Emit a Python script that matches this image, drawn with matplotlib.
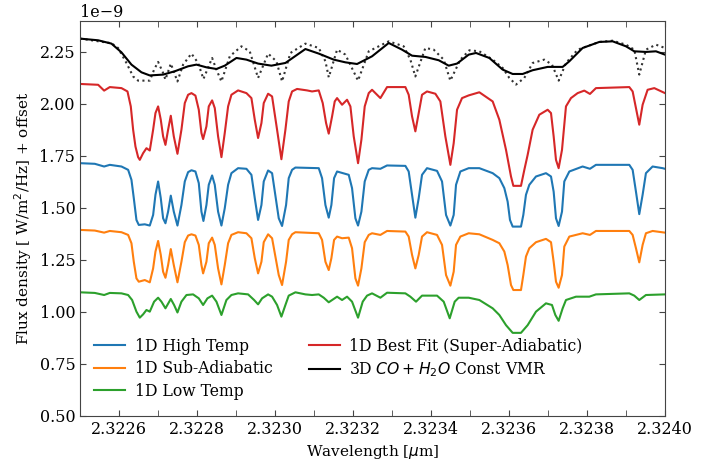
import matplotlib
matplotlib.use('Agg')
import matplotlib.pyplot as plt
from matplotlib.ticker import MultipleLocator
import numpy as np

plt.rcParams['font.family'] = 'serif'
plt.rcParams['font.serif'] = ['DejaVu Serif']

# wavelengths are given as offsets from wl0, in units of 1e-4 um
# flux in units of 1e-9 W/m^2/Hz (offsets already added)
wl0 = 2.3225

dl_high = [0, 0.376, 0.615, 0.761, 1.060, 1.231, 1.316, 1.376, 1.444, 1.504, 1.658, 1.786,
           1.872, 1.932, 2.000, 2.068, 2.128, 2.188, 2.256, 2.325, 2.402, 2.496, 2.598, 2.684,
           2.769, 2.855, 2.957, 3.043, 3.111, 3.162, 3.239, 3.299, 3.385, 3.453, 3.538, 3.624,
           3.709, 3.795, 3.880, 4.051, 4.265, 4.393, 4.479, 4.564, 4.650, 4.709, 4.821, 4.923,
           5.094, 5.179, 5.282, 5.350, 5.436, 5.521, 6.120, 6.205, 6.291, 6.376, 6.444, 6.513,
           6.590, 6.889, 6.974, 7.060, 7.128, 7.214, 7.299, 7.402, 7.487, 7.701, 7.872, 8.342,
           8.427, 8.513, 8.598, 8.684, 8.769, 8.897, 9.154, 9.282, 9.385, 9.496, 9.581, 9.641,
           9.752, 9.966, 10.239, 10.581, 10.752, 10.880, 10.965, 11.025, 11.094, 11.307, 11.367,
           11.435, 11.521, 11.692, 11.948, 12.077, 12.145, 12.205, 12.273, 12.359, 12.418,
           12.547, 12.888, 13.076, 13.230, 14.085, 14.171, 14.256, 14.341, 14.427, 14.512,
           14.683, 14.940, 15.0]
flux_high = [1.715, 1.712, 1.699, 1.707, 1.699, 1.683, 1.635, 1.547, 1.442, 1.418, 1.421, 1.415,
             1.466, 1.563, 1.627, 1.547, 1.450, 1.426, 1.482, 1.559, 1.482, 1.415, 1.514, 1.627,
             1.672, 1.681, 1.675, 1.619, 1.482, 1.437, 1.514, 1.611, 1.656, 1.611, 1.482, 1.415,
             1.498, 1.611, 1.667, 1.691, 1.688, 1.659, 1.547, 1.442, 1.514, 1.627, 1.680, 1.667,
             1.450, 1.413, 1.514, 1.643, 1.683, 1.694, 1.691, 1.643, 1.514, 1.453, 1.514, 1.643,
             1.675, 1.659, 1.595, 1.450, 1.415, 1.482, 1.627, 1.683, 1.691, 1.688, 1.704, 1.702,
             1.675, 1.563, 1.453, 1.547, 1.659, 1.691, 1.678, 1.627, 1.466, 1.415, 1.466, 1.611,
             1.675, 1.691, 1.691, 1.667, 1.643, 1.595, 1.530, 1.442, 1.410, 1.410, 1.466,
             1.563, 1.611, 1.651, 1.667, 1.651, 1.578, 1.450, 1.413, 1.482, 1.627,
             1.675, 1.699, 1.688, 1.707, 1.707, 1.683, 1.578, 1.470, 1.563, 1.667,
             1.699, 1.691, 1.688]

dl_sub = [0, 0.376, 0.615, 0.761, 1.060, 1.231, 1.316, 1.376, 1.444, 1.504, 1.658, 1.786,
          1.872, 1.932, 2.000, 2.068, 2.128, 2.188, 2.256, 2.325, 2.402, 2.496, 2.598, 2.684,
          2.769, 2.855, 2.957, 3.043, 3.111, 3.154, 3.239, 3.299, 3.385, 3.453, 3.538, 3.624,
          3.709, 3.795, 3.880, 4.051, 4.265, 4.393, 4.479, 4.564, 4.650, 4.709, 4.821, 4.923,
          5.094, 5.179, 5.282, 5.350, 5.436, 5.521, 6.120, 6.205, 6.291, 6.376, 6.444, 6.513,
          6.590, 6.718, 6.889, 6.974, 7.060, 7.128, 7.214, 7.299, 7.402, 7.487, 7.701, 7.872,
          8.342, 8.427, 8.513, 8.598, 8.684, 8.769, 8.897, 9.154, 9.282, 9.385, 9.496, 9.581,
          9.641, 9.752, 9.966, 10.239, 10.581, 10.752, 10.880, 10.965, 11.051, 11.111, 11.307,
          11.367, 11.435, 11.521, 11.692, 11.948, 12.077, 12.145, 12.205, 12.273, 12.359,
          12.418, 12.547, 12.888, 13.076, 13.230, 14.085, 14.171, 14.256, 14.341, 14.427,
          14.512, 14.683, 15.0]
flux_sub = [1.394, 1.391, 1.381, 1.389, 1.383, 1.370, 1.330, 1.241, 1.161, 1.145, 1.153, 1.142,
            1.209, 1.290, 1.341, 1.274, 1.193, 1.164, 1.225, 1.302, 1.225, 1.142, 1.241, 1.335,
            1.367, 1.373, 1.367, 1.322, 1.225, 1.185, 1.241, 1.330, 1.357, 1.322, 1.209, 1.132,
            1.225, 1.330, 1.370, 1.383, 1.378, 1.354, 1.258, 1.185, 1.241, 1.335, 1.373, 1.354,
            1.177, 1.129, 1.241, 1.346, 1.373, 1.383, 1.378, 1.346, 1.241, 1.201, 1.258, 1.346,
            1.362, 1.354, 1.357, 1.306, 1.161, 1.126, 1.209, 1.335, 1.370, 1.378, 1.370, 1.389,
            1.386, 1.362, 1.274, 1.209, 1.274, 1.362, 1.383, 1.370, 1.322, 1.177, 1.126, 1.193,
            1.322, 1.362, 1.378, 1.373, 1.346, 1.330, 1.290, 1.225, 1.129, 1.105, 1.105,
            1.177, 1.266, 1.306, 1.335, 1.351, 1.335, 1.241, 1.145, 1.116, 1.177,
            1.314, 1.362, 1.378, 1.370, 1.389, 1.389, 1.370, 1.306, 1.238, 1.322,
            1.378, 1.389, 1.381]

dl_low = [0, 0.376, 0.615, 0.761, 1.060, 1.231, 1.333, 1.444, 1.530, 1.615, 1.701, 1.786,
          1.897, 2.000, 2.085, 2.188, 2.325, 2.410, 2.496, 2.598, 2.727, 2.897, 3.043, 3.154,
          3.265, 3.385, 3.496, 3.624, 3.752, 3.880, 4.051, 4.308, 4.462, 4.564, 4.667, 4.821,
          4.923, 5.051, 5.162, 5.265, 5.350, 5.521, 5.778, 5.949, 6.120, 6.248, 6.376, 6.590,
          6.718, 6.846, 6.974, 7.128, 7.248, 7.359, 7.487, 7.701, 7.872, 8.342, 8.470, 8.615,
          8.769, 9.154, 9.325, 9.479, 9.607, 9.709, 9.966, 10.239, 10.581, 10.752, 10.923,
          11.094, 11.307, 11.478, 11.692, 11.948, 12.102, 12.188, 12.273, 12.376, 12.461,
          12.718, 13.059, 13.230, 14.085, 14.213, 14.341, 14.512, 15.0]
flux_low = [1.094, 1.091, 1.081, 1.091, 1.089, 1.081, 1.057, 1.001, 0.972, 0.988, 1.009, 1.001,
            1.049, 1.068, 1.049, 1.017, 1.062, 1.033, 0.997, 1.049, 1.081, 1.084, 1.065, 1.033,
            1.065, 1.078, 1.049, 0.985, 1.057, 1.081, 1.089, 1.084, 1.057, 1.036, 1.065, 1.084,
            1.073, 1.033, 0.977, 1.033, 1.078, 1.094, 1.084, 1.081, 1.084, 1.068, 1.046, 1.073,
            1.057, 1.073, 1.049, 0.972, 1.049, 1.078, 1.089, 1.068, 1.092, 1.089, 1.073, 1.049,
            1.078, 1.078, 1.049, 0.969, 1.049, 1.068, 1.068, 1.057, 1.017, 0.985, 0.936,
            0.899, 0.899, 0.936, 1.001, 1.041, 1.033, 0.985, 0.957, 1.017, 1.057,
            1.073, 1.073, 1.084, 1.089, 1.078, 1.057, 1.081, 1.084]

dl_best = [0, 0.462, 0.615, 0.761, 1.060, 1.214, 1.299, 1.359, 1.419, 1.487, 1.530, 1.615,
           1.701, 1.786, 1.872, 1.932, 2.000, 2.068, 2.128, 2.188, 2.256, 2.325, 2.402, 2.496,
           2.598, 2.684, 2.769, 2.855, 2.957, 3.043, 3.111, 3.154, 3.239, 3.299, 3.385, 3.453,
           3.538, 3.624, 3.709, 3.795, 3.880, 4.051, 4.265, 4.393, 4.479, 4.564, 4.650, 4.709,
           4.821, 4.923, 5.051, 5.162, 5.265, 5.350, 5.436, 5.564, 5.820, 5.949, 6.120, 6.222,
           6.308, 6.376, 6.462, 6.530, 6.590, 6.718, 6.846, 6.932, 7.017, 7.128, 7.214, 7.299,
           7.402, 7.487, 7.701, 7.872, 8.342, 8.427, 8.513, 8.598, 8.684, 8.769, 8.897, 9.111,
           9.239, 9.367, 9.496, 9.581, 9.667, 9.795, 9.966, 10.239, 10.581, 10.752, 10.923,
           11.051, 11.111, 11.307, 11.393, 11.478, 11.606, 11.777, 11.991, 12.077, 12.145,
           12.205, 12.273, 12.359, 12.461, 12.589, 12.760, 12.931, 13.076, 13.230, 14.085,
           14.171, 14.256, 14.341, 14.427, 14.555, 14.726, 15.0]
flux_best = [2.096, 2.092, 2.064, 2.081, 2.076, 2.060, 1.988, 1.876, 1.795, 1.744, 1.731, 1.763,
             1.787, 1.776, 1.876, 1.956, 1.988, 1.924, 1.844, 1.803, 1.876, 1.943, 1.844, 1.760,
             1.876, 2.004, 2.044, 2.052, 2.040, 1.972, 1.860, 1.831, 1.892, 1.988, 2.017, 1.980,
             1.844, 1.744, 1.860, 1.988, 2.044, 2.065, 2.052, 2.028, 1.924, 1.836, 1.908, 2.004,
             2.049, 2.036, 1.876, 1.734, 1.876, 2.012, 2.060, 2.072, 2.065, 2.060, 2.065, 2.004,
             1.908, 1.857, 1.940, 2.012, 2.028, 1.996, 2.020, 1.988, 1.844, 1.715, 1.828, 1.988,
             2.052, 2.068, 2.028, 2.081, 2.081, 2.044, 1.940, 1.868, 1.956, 2.044, 2.060, 2.049,
             2.012, 1.844, 1.707, 1.811, 1.972, 2.028, 2.041, 2.056, 2.012, 1.924, 1.779,
             1.651, 1.606, 1.606, 1.683, 1.755, 1.876, 1.948, 1.972, 1.956, 1.844,
             1.731, 1.691, 1.779, 1.988, 2.028, 2.052, 2.064, 2.048, 2.076, 2.081,
             2.060, 1.980, 1.900, 1.996, 2.068, 2.076, 2.052]

dl_3d = [0, 0.462, 0.803, 1.060, 1.316, 1.573, 1.786, 2.128, 2.427, 2.769, 2.983, 3.239,
         3.496, 3.709, 4.009, 4.265, 4.564, 4.906, 5.265, 5.778, 6.120, 6.504, 6.803, 7.103,
         7.487, 7.915, 8.256, 8.513, 8.855, 9.197, 9.453, 9.667, 9.966, 10.153, 10.495, 10.837,
         11.094, 11.350, 11.606, 11.991, 12.376, 12.547, 12.888, 13.316, 13.658, 14.000, 14.213,
         14.512, 14.769, 15.0]
flux_3d = [2.314, 2.306, 2.290, 2.248, 2.189, 2.152, 2.137, 2.141, 2.157, 2.181, 2.189, 2.176,
           2.168, 2.184, 2.221, 2.213, 2.194, 2.184, 2.197, 2.264, 2.242, 2.213, 2.200, 2.192,
           2.229, 2.293, 2.261, 2.232, 2.226, 2.210, 2.184, 2.194, 2.237, 2.245, 2.221, 2.165,
           2.144, 2.144, 2.162, 2.178, 2.178, 2.205, 2.269, 2.298, 2.301, 2.277, 2.253,
           2.250, 2.253, 2.237]

# line-by-line version of the 3D model (dotted, not in legend)
dl_3d_lines = [0, 0.803, 0.974, 1.187, 1.359, 1.487, 1.787, 1.897, 2.000, 2.128, 2.187, 2.326,
               2.495, 2.641, 2.854, 3.026, 3.162, 3.385, 3.495, 3.623, 3.838, 4.136, 4.350, 4.564,
               4.821, 5.034, 5.179, 5.393, 5.777, 6.121, 6.291, 6.377, 6.590, 6.803, 7.128, 7.402,
               7.915, 8.299, 8.470, 8.597, 8.854, 9.068, 9.325, 9.495, 9.752, 9.983, 10.238,
               10.582, 10.838, 11.008, 11.179, 11.392, 11.608, 11.905, 12.103, 12.274, 12.462,
               12.762, 13.315, 13.659, 14.000, 14.213, 14.341, 14.513, 14.769, 15.0]
flux_3d_lines = [2.314, 2.292, 2.269, 2.197, 2.132, 2.112, 2.112, 2.165, 2.202, 2.149, 2.117, 2.194,
                 2.108, 2.189, 2.242, 2.197, 2.120, 2.221, 2.165, 2.108, 2.229, 2.277, 2.253, 2.125,
                 2.242, 2.205, 2.108, 2.245, 2.290, 2.269, 2.205, 2.128, 2.261, 2.237, 2.112, 2.253,
                 2.301, 2.277, 2.213, 2.132, 2.269, 2.261, 2.213, 2.112, 2.213, 2.258, 2.253,
                 2.213, 2.173, 2.125, 2.093, 2.125, 2.197, 2.213, 2.189, 2.112, 2.197,
                 2.261, 2.298, 2.304, 2.285, 2.261, 2.141, 2.261, 2.285, 2.269]


def wave(dl):
    return wl0 + 1e-4 * np.array(dl)


def flux(f):
    return 1e-9 * np.array(f)


fig = plt.figure(figsize=(7.22, 4.61), dpi=100)
ax = fig.add_axes([0.111, 0.098, 0.81, 0.857])

ax.plot(wave(dl_high), flux(flux_high), color='#1f77b4', lw=1.5, label='1D High Temp')
ax.plot(wave(dl_sub), flux(flux_sub), color='#ff7f0e', lw=1.5, label='1D Sub-Adiabatic')
ax.plot(wave(dl_low), flux(flux_low), color='#2ca02c', lw=1.5, label='1D Low Temp')
ax.plot(wave(dl_best), flux(flux_best), color='#d62728', lw=1.5,
        label='1D Best Fit (Super-Adiabatic)')
ax.plot(wave(dl_3d_lines), flux(flux_3d_lines), color='#333333', lw=1.5, ls=':')
ax.plot(wave(dl_3d), flux(flux_3d), color='black', lw=1.5,
        label=r'3D $CO + H_2O$ Const VMR')

ax.set_xlim(2.3225, 2.3240)
ax.set_ylim(0.5e-9, 2.4e-9)
ax.xaxis.set_major_locator(MultipleLocator(0.0002))
ax.xaxis.set_minor_locator(MultipleLocator(0.0001))
ax.yaxis.set_major_locator(MultipleLocator(0.25e-9))
ax.ticklabel_format(axis='x', useOffset=False)
ax.tick_params(which='both', direction='in', top=True, right=True, length=4,
               labelsize=11.5, color='#444444')
ax.yaxis.get_offset_text().set_fontsize(11.5)
for s in ax.spines.values():
    s.set_color('#444444')

ax.set_xlabel(r'Wavelength [$\mu$m]', fontsize=11)
ax.set_ylabel(r'Flux density [ W/m$^2$/Hz] + offset', fontsize=11)

ax.legend(loc='lower left', ncol=2, frameon=False, fontsize=11.25,
          bbox_to_anchor=(0.0, 0.005), columnspacing=2.3, labelspacing=0.35,
          handletextpad=0.6)

fig.savefig('out.png', dpi=100)
